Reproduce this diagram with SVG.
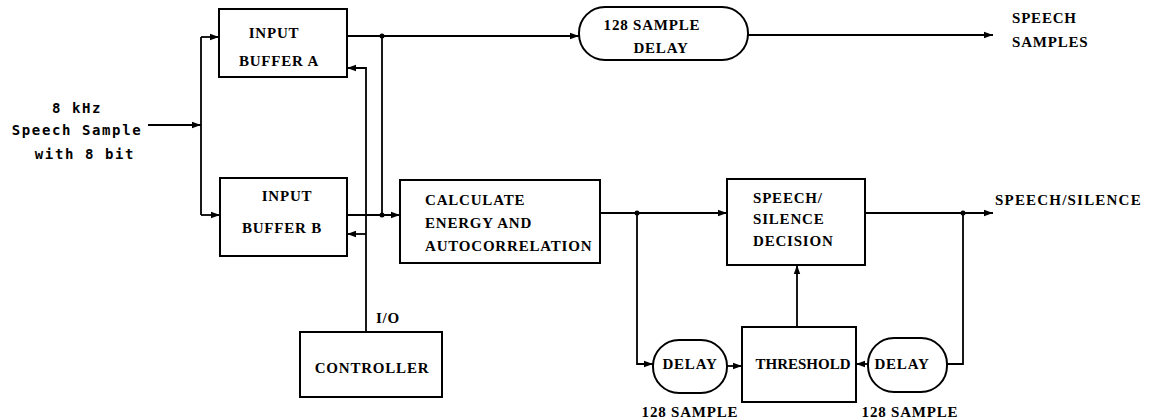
<svg xmlns="http://www.w3.org/2000/svg" width="1152" height="420" viewBox="0 0 1152 420">
<defs>
<style>
.box{fill:#fff;stroke:#000;stroke-width:2}
.ln{fill:none;stroke:#000;stroke-width:1.8}
.t{font-family:"Liberation Serif","Times New Roman",serif;font-weight:bold;font-size:15px;letter-spacing:0.8px;fill:#000}
.m{text-anchor:middle}
.l{font-family:"DejaVu Sans Mono","Liberation Mono",monospace;font-weight:bold;font-size:14px;letter-spacing:1.6px;fill:#000;text-anchor:middle}
.dot{fill:#000}
</style>
<marker id="ar" markerUnits="userSpaceOnUse" markerWidth="10" markerHeight="8" refX="9" refY="4" orient="auto">
<path d="M0,0.8 L9,4 L0,7.2 Z" fill="#000"/>
</marker>
</defs>
<rect width="1152" height="420" fill="#fff"/>

<g id="connectors">
<path class="ln" d="M148 125 H201" marker-end="url(#ar)"/>
<path class="ln" d="M201 37 V215"/>
<path class="ln" d="M201 37 H219" marker-end="url(#ar)"/>
<path class="ln" d="M201 215 H220" marker-end="url(#ar)"/>
<path class="ln" d="M347 36 H579" marker-end="url(#ar)"/>
<path class="ln" d="M382 36 V215"/>
<path class="ln" d="M347 215 H400" marker-end="url(#ar)"/>
<path class="ln" d="M366 332 V68 H347" marker-end="url(#ar)"/>
<path class="ln" d="M366 234 H347" marker-end="url(#ar)"/>
<path class="ln" d="M748 35 H993" marker-end="url(#ar)"/>
<path class="ln" d="M600 213 H727" marker-end="url(#ar)"/>
<path class="ln" d="M637 213 V364 H653" marker-end="url(#ar)"/>
<path class="ln" d="M727 366 H742" marker-end="url(#ar)"/>
<path class="ln" d="M797 327 V265" marker-end="url(#ar)"/>
<path class="ln" d="M865 213 H993" marker-end="url(#ar)"/>
<path class="ln" d="M963 213 V364 H947"/>
<path class="ln" d="M868 364 H856" marker-end="url(#ar)"/>
<circle class="dot" cx="382" cy="36" r="2.5"/>
<circle class="dot" cx="382" cy="215" r="2.5"/>
<circle class="dot" cx="637" cy="213" r="2.5"/>
<circle class="dot" cx="963" cy="213" r="2.5"/>
</g>

<g id="input-label">
<text class="l" x="77" y="113">8 kHz</text>
<text class="l" x="77" y="135">Speech Sample</text>
<text class="l" x="85" y="159">with 8 bit</text>
</g>

<g id="buffer-a">
<rect class="box" x="219" y="9" width="128" height="68"/>
<text class="t m" x="274" y="38">INPUT</text>
<text class="t m" x="279" y="66">BUFFER A</text>
</g>

<g id="buffer-b">
<rect class="box" x="220" y="178" width="127" height="78"/>
<text class="t m" x="287" y="201">INPUT</text>
<text class="t m" x="282" y="233">BUFFER B</text>
</g>

<g id="controller">
<rect class="box" x="300" y="332" width="142" height="65"/>
<text class="t m" x="372" y="373">CONTROLLER</text>
<text class="t m" x="388" y="323">I/O</text>
</g>

<g id="sample-delay">
<rect class="box" x="579" y="7" width="169" height="53" rx="26" ry="26"/>
<text class="t m" x="652" y="30" xml:space="preserve">128 SAMPLE</text>
<text class="t m" x="661" y="53">DELAY</text>
</g>

<g id="speech-samples-label">
<text class="t" x="1012" y="23">SPEECH</text>
<text class="t" x="1012" y="47">SAMPLES</text>
</g>

<g id="calculate">
<rect class="box" x="400" y="180" width="200" height="83"/>
<text class="t" x="425" y="205">CALCULATE</text>
<text class="t" x="425" y="228">ENERGY AND</text>
<text class="t" x="425" y="251">AUTOCORRELATION</text>
</g>

<g id="decision">
<rect class="box" x="727" y="179" width="138" height="86"/>
<text class="t" x="753" y="203">SPEECH/</text>
<text class="t" x="753" y="224">SILENCE</text>
<text class="t" x="753" y="246">DECISION</text>
</g>

<g id="speech-silence-label">
<text class="t" x="995" y="205" style="letter-spacing:1.2px">SPEECH/SILENCE</text>
</g>

<g id="delay-1">
<rect class="box" x="653" y="340" width="74" height="53" rx="26" ry="26"/>
<text class="t m" x="690" y="369">DELAY</text>
<text class="t m" x="690" y="417">128 SAMPLE</text>
</g>

<g id="threshold">
<rect class="box" x="742" y="327" width="114" height="75"/>
<text class="t m" x="803" y="369" style="letter-spacing:0px">THRESHOLD</text>
</g>

<g id="delay-2">
<rect class="box" x="868" y="338" width="79" height="54" rx="26" ry="26"/>
<text class="t m" x="902" y="369">DELAY</text>
<text class="t m" x="910" y="417">128 SAMPLE</text>
</g>
</svg>
